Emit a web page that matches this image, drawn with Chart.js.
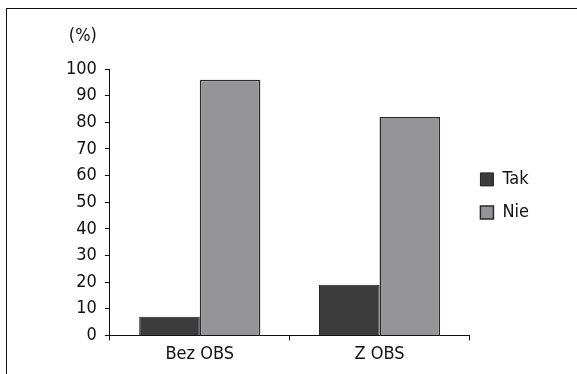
<!DOCTYPE html>
<html>
<head>
<meta charset="utf-8">
<script src="https://cdn.jsdelivr.net/npm/chart.js@4.4.0/dist/chart.umd.min.js"></script>
<style>
  html, body { margin: 0; padding: 0; background: #fff; }
  #wrap { position: relative; width: 577px; height: 374px; }
  #frame { position: absolute; left: 6px; top: 8px; right: -2px; bottom: -2px;
           border-top: 1.5px solid #111; border-left: 1.5px solid #111; }
  canvas { position: absolute; left: 0; top: 0; }
</style>
</head>
<body>
<div id="wrap">
  <div id="frame"></div>
  <canvas id="myChart" width="577" height="374"></canvas>
</div>
<script>
// ---------- data ----------
const categories = ["Bez OBS", "Z OBS"];
const seriesNames = ["Tak", "Nie"];
const takValues = [7, 19];
const nieValues = [96, 82];
const yTicks = [0, 10, 20, 30, 40, 50, 60, 70, 80, 90, 100];

const fontFamily = "'Liberation Sans Narrow', 'DejaVu Sans Condensed', sans-serif";
const fontSize = 18;

// draws the "(%)" label above the y axis
const unitLabel = {
  id: "unitLabel",
  afterDraw(chart) {
    const ctx = chart.ctx;
    const y = chart.scales.y;
    ctx.save();
    ctx.font = fontSize + "px " + fontFamily;
    ctx.fillStyle = "#111";
    ctx.textAlign = "right";
    ctx.textBaseline = "middle";
    ctx.fillText("(%)", y.right - 13, chart.chartArea.top - 33);
    ctx.restore();
  },
};

// pulls the legend a little closer to the plot, like the original
const legendNudge = {
  id: "legendNudge",
  afterLayout(chart) {
    chart.legend.left -= 4;
    chart.legend.right -= 4;
  },
};

const ctx = document.getElementById("myChart");
new Chart(ctx, {
  type: "bar",
  data: {
    labels: categories,
    datasets: [
      {
        label: seriesNames[0],
        data: takValues,
        backgroundColor: "#3c3c3c",
        borderColor: "#222",
        borderWidth: 1,
      },
      {
        label: seriesNames[1],
        data: nieValues,
        backgroundColor: "#959598",
        borderColor: "#2a2a2a",
        borderWidth: 1.5,
      },
    ],
  },
  options: {
    responsive: false,
    animation: false,
    categoryPercentage: 0.674,
    barPercentage: 1.0,
    layout: { padding: { left: 58, top: 69, right: 34, bottom: 6 } },
    scales: {
      x: {
        grid: { display: true, drawOnChartArea: false, offset: true, tickLength: 5, color: "#111" },
        border: { display: true, color: "#111", width: 1 },
        ticks: { color: "#111", font: { family: fontFamily, size: fontSize }, padding: 3 },
      },
      y: {
        min: 0,
        max: 100,
        afterBuildTicks: (axis) => { axis.ticks = yTicks.map((v) => ({ value: v })); },
        grid: { display: true, drawOnChartArea: false, tickLength: 5, color: "#111" },
        border: { display: true, color: "#111", width: 1 },
        ticks: { color: "#111", font: { family: fontFamily, size: fontSize }, padding: 8 },
      },
    },
    plugins: {
      legend: {
        position: "right",
        align: "start",
        // empty title only used to push the legend items down
        title: { display: true, text: "", padding: { top: 72, bottom: 0 } },
        labels: {
          boxWidth: 13,
          boxHeight: 13,
          padding: 15,
          color: "#111",
          font: { family: fontFamily, size: fontSize },
        },
      },
      tooltip: { enabled: false },
    },
  },
  plugins: [unitLabel, legendNudge],
});
</script>
</body>
</html>
